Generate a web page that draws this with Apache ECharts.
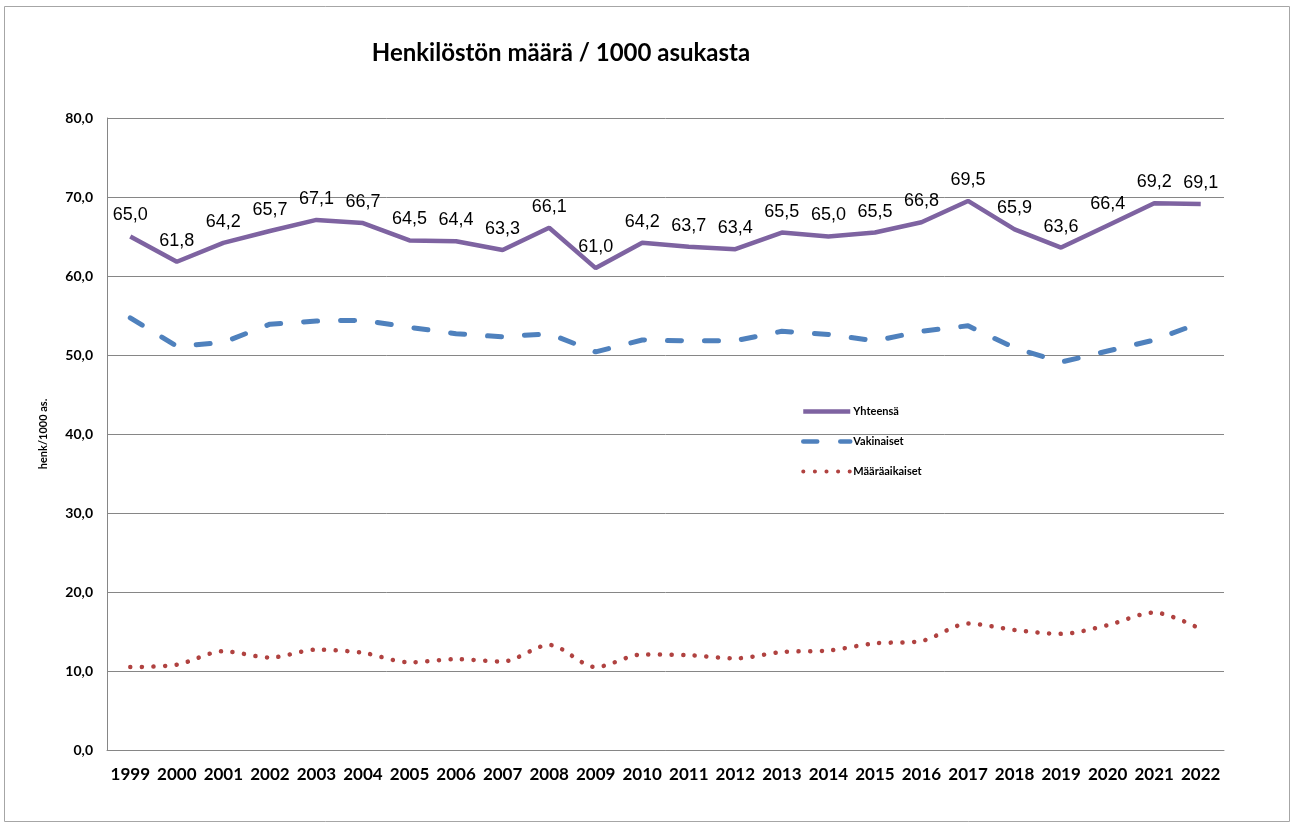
<!DOCTYPE html>
<html>
<head>
<meta charset="utf-8">
<title>Henkilöstön määrä / 1000 asukasta</title>
<script src="https://cdn.jsdelivr.net/npm/echarts@6/dist/echarts.min.js"></script>
<style>
  html, body { margin: 0; padding: 0; background: #fff; }
  #chart { width: 1296px; height: 827px; }
</style>
</head>
<body>
<div id="chart"></div>
<script>
var years = ['1999', '2000', '2001', '2002', '2003', '2004', '2005', '2006', '2007', '2008', '2009', '2010',
  '2011', '2012', '2013', '2014', '2015', '2016', '2017', '2018', '2019', '2020', '2021', '2022']
var yhteensa = [65.0, 61.8, 64.2, 65.7, 67.1, 66.7, 64.5, 64.4, 63.3, 66.1, 61.0, 64.2,
  63.7, 63.4, 65.5, 65.0, 65.5, 66.8, 69.5, 65.9, 63.6, 66.4, 69.2, 69.1]
var vakinaiset = [54.7, 51.1, 51.6, 53.9, 54.3, 54.4, 53.5, 52.7, 52.3, 52.7, 50.4, 51.9,
  51.8, 51.8, 53.0, 52.6, 51.8, 53.0, 53.7, 50.9, 49.1, 50.5, 51.9, 54.1]
var maaraaikaiset = [10.5, 10.8, 12.5, 11.7, 12.7, 12.3, 11.1, 11.5, 11.2, 13.3, 10.5, 12.1,
  12.0, 11.6, 12.4, 12.6, 13.5, 13.8, 16.0, 15.2, 14.7, 15.8, 17.4, 15.3]
var yTicks = [0, 10, 20, 30, 40, 50, 60, 70, 80]

// pilkku desimaalierottimena
function fi(v) {
  return v.toFixed(1).replace('.', ',')
}

var chart = echarts.init(document.getElementById('chart'))
chart.setOption({
  animation: false,
  backgroundColor: '#fff',
  textStyle: { fontFamily: 'Lato, "Open Sans", sans-serif' },
  graphic: [{
    type: 'rect',
    shape: { x: 4.5, y: 6.5, width: 1285, height: 815 },
    style: { fill: 'none', stroke: '#a6a6a6', lineWidth: 1 },
    silent: true
  }],
  title: {
    text: 'Henkilöstön määrä / 1000 asukasta',
    left: 556,
    textAlign: 'center',
    top: 36,
    textStyle: { fontSize: 24, fontWeight: 'bold', color: '#000', fontFamily: 'Lato, sans-serif' }
  },
  legend: {
    orient: 'vertical',
    left: 796,
    top: 401,
    itemWidth: 47,
    itemHeight: 10,
    itemGap: 19,
    itemStyle: { opacity: 0 },
    textStyle: { fontSize: 11, fontWeight: 'bold', color: '#000', padding: [0, 0, 0, -2] },
    data: [
      { name: 'Yhteensä', lineStyle: { width: 4.5 } },
      { name: 'Vakinaiset', lineStyle: { width: 4.5 } },
      { name: 'Määräaikaiset', lineStyle: { width: 4 } }
    ]
  },
  grid: { left: 107, right: 72, top: 118, bottom: 77 },
  xAxis: {
    type: 'category',
    data: years,
    boundaryGap: true,
    axisLine: { lineStyle: { color: '#868686' } },
    axisTick: { show: false },
    axisLabel: { fontSize: 17, fontWeight: 'bold', color: '#000', margin: 16, interval: 0 }
  },
  yAxis: {
    type: 'value',
    min: yTicks[0],
    max: yTicks[yTicks.length - 1],
    interval: 10,
    name: 'henk/1000 as.',
    nameLocation: 'middle',
    nameGap: 58,
    nameTextStyle: { fontSize: 11, fontWeight: 'bold', color: '#000' },
    axisLine: { show: true, lineStyle: { color: '#868686' } },
    axisTick: { show: false },
    splitLine: { lineStyle: { color: '#868686' } },
    axisLabel: {
      fontSize: 14, fontWeight: 'bold', color: '#000', margin: 14,
      formatter: function(v) { return fi(v) }
    }
  },
  series: [{
    name: 'Yhteensä',
    type: 'line',
    data: yhteensa,
    showSymbol: true,
    symbol: 'circle',
    symbolSize: 2,
    itemStyle: { color: 'rgba(0,0,0,0)' },
    lineStyle: { width: 4.5, color: '#7e63a1' },
    label: {
      show: true,
      position: 'top',
      distance: 11,
      fontSize: 18,
      color: '#000',
      fontFamily: '"Liberation Sans", Arial, sans-serif',
      formatter: function(p) { return fi(p.value) }
    },
    labelLayout: { hideOverlap: false }
  }, {
    name: 'Vakinaiset',
    type: 'line',
    data: vakinaiset,
    showSymbol: false,
    symbol: 'none',
    color: '#4f81bd',
    lineStyle: { width: 5, color: '#4f81bd', type: [14, 23], cap: 'round', join: 'round' }
  }, {
    name: 'Määräaikaiset',
    type: 'line',
    data: maaraaikaiset,
    showSymbol: false,
    symbol: 'none',
    smooth: 0.3,
    color: '#b04240',
    lineStyle: { width: 4.5, color: '#b04240', type: [0.1, 11.5], cap: 'round' }
  }]
})
</script>
</body>
</html>
